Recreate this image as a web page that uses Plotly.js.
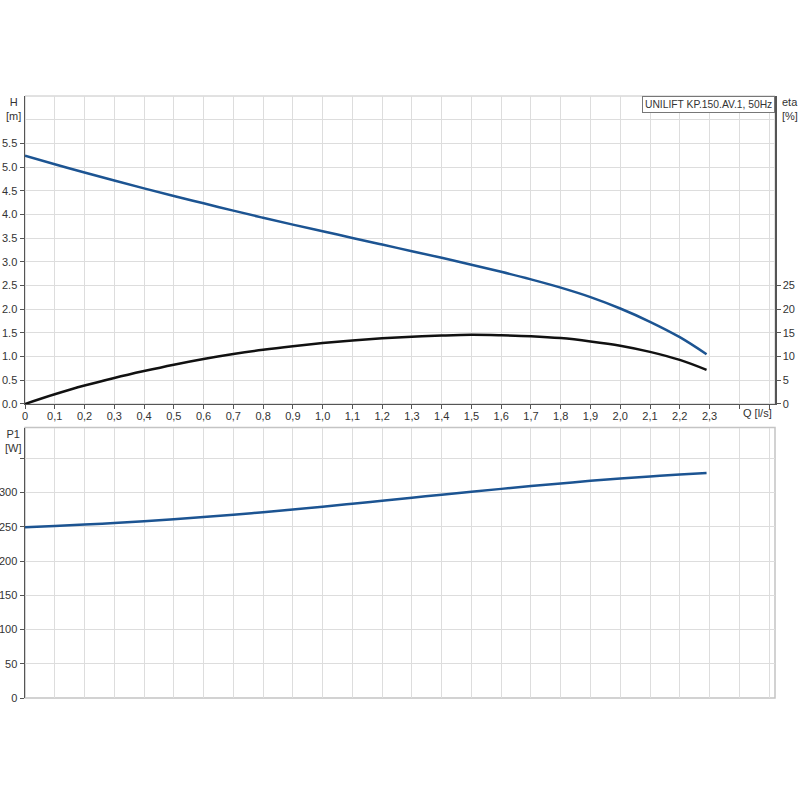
<!DOCTYPE html>
<html>
<head>
<meta charset="utf-8">
<script src="https://cdn.plot.ly/plotly-3.0.1.min.js"></script>
<style>
  html, body { margin: 0; padding: 0; background: #fff; }
  #chart { width: 800px; height: 800px; }
</style>
</head>
<body>
<div id="chart"></div>
<script>
// Pump curve values (Q in l/s)
const flow = [0, 0.1, 0.2, 0.3, 0.4, 0.5, 0.6, 0.7, 0.8, 0.9, 1.0, 1.1,
              1.2, 1.3, 1.4, 1.5, 1.6, 1.7, 1.8, 1.9, 2.0, 2.1, 2.2, 2.29];
const head = [5.24, 5.06, 4.885, 4.715, 4.55, 4.39, 4.235, 4.08, 3.93, 3.785, 3.645, 3.505,
              3.365, 3.225, 3.085, 2.94, 2.79, 2.63, 2.455, 2.255, 2.015, 1.735, 1.41, 1.05];
const eta = [0, 2.05, 3.9, 5.5, 6.95, 8.3, 9.5, 10.55, 11.45, 12.2, 12.85, 13.4,
             13.85, 14.2, 14.45, 14.6, 14.5, 14.3, 13.9, 13.2, 12.3, 11.0, 9.3, 7.2];
const power = [249.5, 251.2, 253.2, 255.5, 258.1, 261, 264.2, 267.7, 271.4, 275.3, 279.4, 283.7,
               288.1, 292.5, 296.9, 301.2, 305.4, 309.5, 313.4, 317.1, 320.5, 323.6, 326.4, 328.7];

// Tick labels
const qTickVals = [0, 0.1, 0.2, 0.3, 0.4, 0.5, 0.6, 0.7, 0.8, 0.9, 1.0, 1.1, 1.2,
                   1.3, 1.4, 1.5, 1.6, 1.7, 1.8, 1.9, 2.0, 2.1, 2.2, 2.3, 2.4, 2.5];
const qTickText = ['0', '0,1', '0,2', '0,3', '0,4', '0,5', '0,6', '0,7', '0,8', '0,9', '1,0', '1,1', '1,2',
                   '1,3', '1,4', '1,5', '1,6', '1,7', '1,8', '1,9', '2,0', '2,1', '2,2', '2,3', '', ''];
const hTickVals = [0, 0.5, 1.0, 1.5, 2.0, 2.5, 3.0, 3.5, 4.0, 4.5, 5.0, 5.5];
const hTickText = ['0.0', '0.5', '1.0', '1.5', '2.0', '2.5', '3.0', '3.5', '4.0', '4.5', '5.0', '5.5'];
const etaTickVals = [0, 5, 10, 15, 20, 25];
const pTickVals = [0, 50, 100, 150, 200, 250, 300, 350];
const pTickText = ['0', '50', '100', '150', '200', '250', '300', ''];

const BLUE = '#1c5492';
const GRID = '#dddddd';
const AXIS = '#555555';
const FRAME = '#c4c4c4';
const tickFont = { family: 'Liberation Sans, Arial, sans-serif', size: 11, color: '#333' };

const traces = [
    {
        x: flow, y: head, xaxis: 'x', yaxis: 'y',
        type: 'scatter', mode: 'lines',
        line: { color: BLUE, width: 2.5, shape: 'spline' },
        hoverinfo: 'skip'
    },
    {
        x: flow, y: eta, xaxis: 'x', yaxis: 'y2',
        type: 'scatter', mode: 'lines',
        line: { color: '#111', width: 2.5, shape: 'spline' },
        hoverinfo: 'skip'
    },
    {
        x: flow, y: power, xaxis: 'x2', yaxis: 'y3',
        type: 'scatter', mode: 'lines',
        line: { color: BLUE, width: 2.5, shape: 'spline' },
        hoverinfo: 'skip'
    }
];

const qAxis = {
    range: [0, 2.52],
    tickmode: 'array',
    showgrid: true, gridcolor: GRID, gridwidth: 1,
    zeroline: false,
    ticks: 'outside', ticklen: 4, tickcolor: AXIS,
    tickfont: tickFont,
    fixedrange: true
};

const layout = {
    width: 800, height: 800,
    paper_bgcolor: '#fff', plot_bgcolor: '#fff',
    margin: { l: 25, r: 25, t: 96, b: 102 },
    showlegend: false,
    font: tickFont,
    xaxis: {
        ...qAxis,
        anchor: 'y',
        tickvals: qTickVals, ticktext: qTickText,
        ticklabelstandoff: -3,
        showline: true, linecolor: AXIS, linewidth: 1.5
    },
    xaxis2: {
        ...qAxis,
        anchor: 'y3', matches: 'x',
        tickvals: qTickVals, ticktext: qTickVals.map(() => ''),
        ticks: '', showline: false
    },
    yaxis: {
        domain: [0.4884, 1],
        range: [0, 6.5],
        tickmode: 'array', tickvals: hTickVals, ticktext: hTickText,
        minor: { dtick: 0.5, tick0: 0, showgrid: true, gridcolor: GRID, ticks: '' },
        showgrid: true, gridcolor: GRID, zeroline: false,
        ticks: 'outside', ticklen: 4, tickcolor: AXIS,
        showline: true, linecolor: AXIS, linewidth: 1.5,
        tickfont: tickFont, fixedrange: true
    },
    yaxis2: {
        overlaying: 'y', side: 'right', anchor: 'x',
        range: [0, 65],
        tickmode: 'array', tickvals: etaTickVals,
        showgrid: false, zeroline: false,
        ticks: 'outside', ticklen: 4, tickcolor: AXIS,
        showline: true, linecolor: AXIS, linewidth: 1.5,
        tickfont: tickFont, fixedrange: true
    },
    yaxis3: {
        domain: [0, 0.4493],
        anchor: 'x2',
        range: [0, 395],
        tickmode: 'array', tickvals: pTickVals, ticktext: pTickText,
        showgrid: true, gridcolor: GRID, zeroline: false,
        ticks: 'outside', ticklen: 4, tickcolor: AXIS,
        showline: true, linecolor: AXIS, linewidth: 1.5,
        tickfont: tickFont, fixedrange: true
    },
    shapes: [
        // light frame around both panels
        { type: 'rect', xref: 'x domain', yref: 'y domain', x0: 0, x1: 1, y0: 0, y1: 1,
          line: { color: FRAME, width: 1 }, layer: 'below' },
        { type: 'rect', xref: 'x2 domain', yref: 'y3 domain', x0: 0, x1: 1, y0: 0, y1: 1,
          line: { color: FRAME, width: 1.5 }, layer: 'below' }
    ],
    annotations: [
        { text: 'H<br>[m]', xref: 'paper', yref: 'paper', x: -0.0147, y: 1.003,
          xanchor: 'center', yanchor: 'top', showarrow: false, font: tickFont },
        { text: 'eta<br>[%]', xref: 'paper', yref: 'paper', x: 1.006, y: 1.003,
          xanchor: 'left', yanchor: 'top', showarrow: false, align: 'left', font: tickFont },
        { text: 'P1<br>[W]', xref: 'paper', yref: 'paper', x: -0.0147, y: 0.452,
          xanchor: 'center', yanchor: 'top', showarrow: false, font: tickFont },
        { text: 'Q [l/s]', xref: 'paper', yref: 'paper', x: 0.976, y: 0.4734,
          xanchor: 'center', yanchor: 'middle', showarrow: false, font: tickFont },
        { text: 'UNILIFT KP.150.AV.1, 50Hz', xref: 'paper', yref: 'paper', x: 1, y: 1,
          xanchor: 'right', yanchor: 'top', showarrow: false,
          bgcolor: '#fff', bordercolor: '#777', borderwidth: 1, borderpad: 2,
          font: { ...tickFont, size: 10.3 } }
    ]
};

Plotly.newPlot('chart', traces, layout, { displayModeBar: false, staticPlot: true });
</script>
</body>
</html>
